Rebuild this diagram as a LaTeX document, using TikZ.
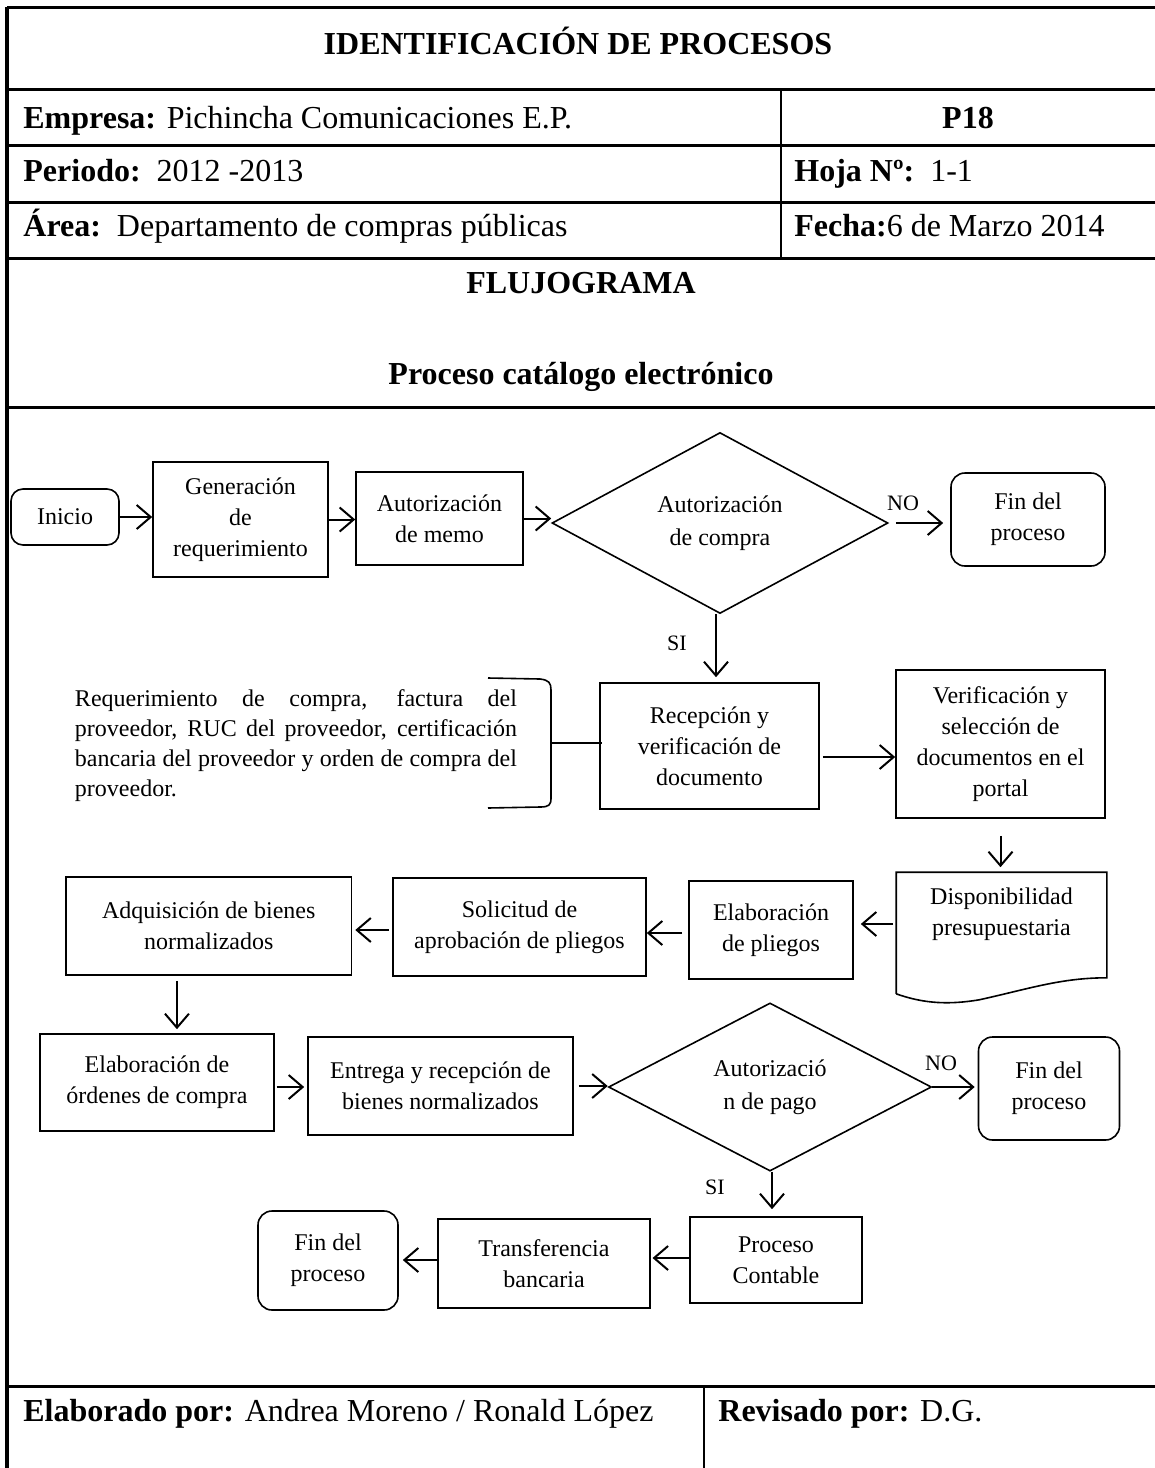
\documentclass[tikz,border=0pt]{standalone}
\usepackage{fontspec}
\setmainfont{Liberation Serif}
\usetikzlibrary{arrows.meta,shapes.geometric,calc}
\begin{document}
\begin{tikzpicture}[x=0.5pt,y=-0.5pt,
  frame/.style={line width=1.5pt},
  thin/.style={line width=0.7pt},
  hdr/.style={font=\fontsize{16}{19}\selectfont, anchor=base west, inner sep=0},
  hdrc/.style={font=\fontsize{16}{19}\selectfont\bfseries, anchor=base, inner sep=0},
  box/.style={draw, line width=0.8pt, rectangle, inner sep=0, align=center,
              font=\fontsize{12}{15.5}\selectfont},
  term/.style={box, rounded corners=7pt},
  dec/.style={draw, line width=0.8pt, shape=diamond, inner sep=0, align=center,
              font=\fontsize{12}{16.5}\selectfont},
  lbl/.style={font=\fontsize{11}{13}\selectfont, inner sep=0},
  arr/.style={-{Straight Barb[length=7pt,width=12pt,line width=1pt]}, line width=1pt}
]
\useasboundingbox (0,0) rectangle (1155,1468);

% ---------- frame ----------
\draw[frame] (7,7) -- (1155,7);
\draw[line width=1.6pt] (7,7) -- (7,1468);
\foreach \yy in {89,145,202,258,407,1386} \draw[frame] (7,\yy) -- (1155,\yy);
\draw[thin] (781,89) -- (781,258);
\draw[thin] (704,1386) -- (704,1468);

% ---------- header texts ----------
\node[hdrc] (title) at (578,54) {IDENTIFICACIÓN DE PROCESOS};
\node[hdr] (emp) at (23,128) {\textbf{Empresa:} Pichincha Comunicaciones E.P.};
\node[hdrc] (code) at (968,128) {P18};
\node[hdr] (per) at (23,181) {\textbf{Periodo:}\ \ 2012 -2013};
\node[hdr] (hoja) at (794,181) {\textbf{Hoja Nº:}\ \ 1-1};
\node[hdr] (area) at (23,236) {\textbf{Área:}\ \ Departamento de compras públicas};
\node[hdr] (fecha) at (794,236) {\textbf{Fecha:}6 de Marzo 2014};
\node[hdrc] (flujo) at (581,293) {FLUJOGRAMA};
\node[hdrc] (proc) at (581,384) {Proceso catálogo electrónico};
\node[hdr] (elab) at (23,1421) {\textbf{Elaborado por:} Andrea Moreno / Ronald López};
\node[hdr] (rev) at (718,1421) {\textbf{Revisado por:} D.G.};

% ---------- row 1 ----------
\node[term, minimum width=54pt, minimum height=28pt, rounded corners=6pt] (ini) at (65,517) {Inicio};
\node[box, minimum width=87.5pt, minimum height=57.5pt] (gen) at (240.5,519.5) {Generación\\de\\requerimiento};
\node[box, minimum width=83.5pt, minimum height=46.5pt] (memo) at (439.5,518.5) {Autorización\\de memo};
\node[dec, minimum width=168pt, minimum height=90.5pt] (d1) at (720,523) {Autorización\\de compra};
\node[term, minimum width=77pt, minimum height=46.5pt] (fin1) at (1028,519.5) {Fin del\\proceso};
\node[lbl] (no1) at (903,503) {NO};
\node[lbl] (si1) at (677,643) {SI};

\draw[arr] (ini.east) -- (ini.east -| gen.west);
\draw[arr] (gen.east) -- (gen.east -| memo.west);
\draw[arr] (memo.east) -- (memo.east -| d1.west);
\draw[arr, shorten <=3.5pt, shorten >=3.5pt] (d1.east) -- (d1.east -| fin1.west);

% ---------- row 2 ----------
\node[box, minimum width=109.5pt, minimum height=63pt] (rec) at (709.5,746) {Recepción y\\verificación de\\documento};
\node[box, minimum width=104.5pt, minimum height=74pt] (ver) at (1000.5,744) {Verificación y\\selección de\\documentos en el\\portal};
\node[inner sep=0, text width=221pt, align=justify, font=\fontsize{12}{15}\selectfont] (req) at (296,746)
 {Requerimiento de compra, factura del\linebreak proveedor, RUC del proveedor, certificación\linebreak bancaria del proveedor y orden de compra del\linebreak proveedor.};

\coordinate (bmid) at (551,743);
\draw[line width=0.8pt] (488,678) -- (540,679) .. controls (549,680) and (551,683) .. (551,690)
  -- (551,798) .. controls (551,805) and (549,807) .. (540,807) -- (488,808);
\draw[line width=0.8pt] (bmid) -- ([xshift=1.5pt]bmid -| rec.west);

\draw[arr, shorten >=2.5pt] ([xshift=-2pt]d1.south) -- ([xshift=-2pt]d1.south |- rec.north);
\draw[arr, shorten <=1.5pt] ([yshift=-5.5pt]rec.east) -- ([yshift=-5.5pt]rec.east -| ver.west);

% ---------- row 3 ----------
\node[box, draw=none, minimum width=104.5pt, minimum height=41pt] (disp) at (1001.5,914) {Disponibilidad\\presupuestaria};
\draw[line width=0.8pt] ($(disp.south west)+(0,38)$) -- (disp.north west) -- (disp.north east)
  -- ($(disp.south east)+(0,22)$)
  .. controls ($(disp.south east)+(-46,22)$) and ($(disp.south west)+(133,33)$) .. ($(disp.south west)+(83,44)$)
  .. controls ($(disp.south west)+(53,49)$) and ($(disp.south west)+(28,48)$) .. ($(disp.south west)+(0,38)$);
\node[box, minimum width=82pt, minimum height=49pt] (elp) at (771,930) {Elaboración\\de pliegos};
\node[box, minimum width=126.5pt, minimum height=49pt] (sol) at (519.5,927) {Solicitud de\\aprobación de pliegos};
\node[box, minimum width=142.75pt, minimum height=49pt] (adq) at (208.75,926) {Adquisición de bienes\\normalizados};

\draw[arr, shorten <=8.5pt, shorten >=2.5pt] (ver.south) -- (ver.south |- disp.north);
\draw[arr, shorten <=1.5pt, shorten >=3.5pt] ([yshift=3pt]elp.east -| disp.west) -- ([yshift=3pt]elp.east);
\draw[arr, shorten <=3pt] ([yshift=-1.5pt]elp.west) -- ([yshift=-1.5pt]elp.west -| sol.east);
\draw[arr, shorten <=1.5pt, shorten >=1.5pt] ([yshift=-1.5pt]sol.west) -- ([yshift=-1.5pt]sol.west -| adq.east);

% ---------- row 4 ----------
\node[box, minimum width=116.75pt, minimum height=48.5pt] (ord) at (157,1082.5) {Elaboración de\\órdenes de compra};
\node[box, minimum width=132.5pt, minimum height=49pt] (ent) at (440.5,1086) {Entrega y recepción de\\bienes normalizados};
\node[dec, minimum width=161.5pt, minimum height=84pt] (d2) at (770,1087) {Autorizació\\n de pago};
\node[term, minimum width=70.5pt, minimum height=51.5pt] (fin2) at (1049,1088.5) {Fin del\\proceso};
\node[lbl] (no2) at (941,1063) {NO};
\node[lbl] (si2) at (715,1187) {SI};

\draw[arr, shorten <=2.5pt, shorten >=2pt] ([xshift=-15.9pt]adq.south) -- ([xshift=-15.9pt]adq.south |- ord.north);
\draw[arr, shorten <=1pt, shorten >=1.5pt] ([yshift=-2.25pt]ord.east) -- ([yshift=-2.25pt]ord.east -| ent.west);
\draw[arr, shorten <=2.5pt] (ent.east) -- (ent.east -| d2.west);
\draw[arr, shorten >=1.5pt] (d2.east) -- (d2.east -| fin2.west);

% ---------- row 5 ----------
\node[box, minimum width=86pt, minimum height=43pt] (pc) at (776,1260) {Proceso\\Contable};
\node[box, minimum width=105.75pt, minimum height=44.5pt] (tra) at (544,1263.5) {Transferencia\\bancaria};
\node[term, minimum width=70pt, minimum height=49.5pt] (fin3) at (328,1260.5) {Fin del\\proceso};

\draw[arr, shorten >=3.5pt] ([xshift=1pt]d2.south) -- ([xshift=1pt]d2.south |- pc.north);
\draw[arr, shorten >=1pt] ([yshift=1pt]pc.west) -- ([yshift=1pt]pc.west -| tra.east);
\draw[arr, shorten >=2pt] ([yshift=1.75pt]tra.west) -- ([yshift=1.75pt]tra.west -| fin3.east);
\end{tikzpicture}
\end{document}
